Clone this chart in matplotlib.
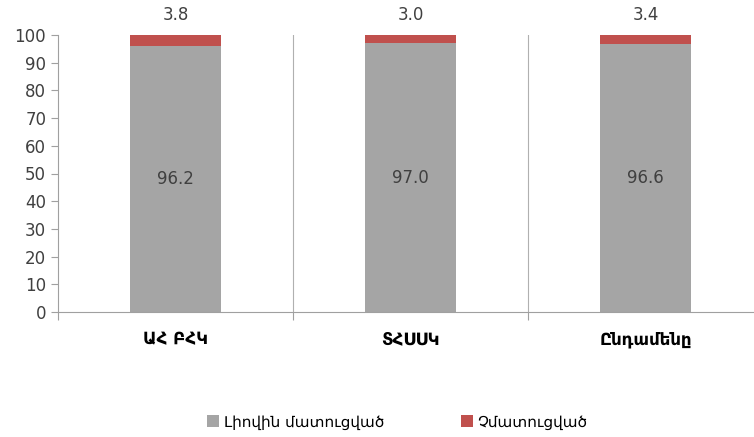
import matplotlib.pyplot as plt
import numpy as np

categories = ["ԱՀ ԲՀԿ", "ՏՀՍՍԿ", "Ընդամենը"]
fully_paid = [96.2, 97.0, 96.6]
unpaid = [3.8, 3.0, 3.4]
series_names = ["Լիովին մատուցված", "Չմատուցված"]
yticks = list(range(0, 101, 10))

plt.rcParams['font.family'] = ['DejaVu Sans']

fig = plt.figure(figsize=(7.54, 4.37), dpi=100)
ax = fig.add_axes([58 / 754, 125 / 437, 705 / 754, 277 / 437])

x = np.arange(len(categories))
gray = "#a5a5a5"
red = "#c0504d"
b1 = ax.bar(x, fully_paid, width=0.39, color=gray, label=series_names[0])
b2 = ax.bar(x, unpaid, width=0.39, bottom=fully_paid, color=red, label=series_names[1])

for i in range(len(categories)):
    ax.text(x[i], fully_paid[i] / 2, f"{fully_paid[i]:.1f}", ha="center", va="center",
            fontsize=12, color="#404040")
    ax.annotate(f"{unpaid[i]:.1f}", (x[i], fully_paid[i] + unpaid[i]), xytext=(0, 8),
                textcoords="offset points", ha="center", va="bottom",
                fontsize=12, color="#404040")

ax.set_xlim(-0.5, len(categories) - 0.5)
ax.set_ylim(0, 100)
ax.set_yticks(yticks)
ax.tick_params(axis="y", labelsize=12, colors="#404040", length=5, color="#a0a0a0")

# category separators
ax.set_xticks(np.arange(len(categories) + 1) - 0.5)
ax.set_xticklabels([])
ax.tick_params(axis="x", length=6, color="#a0a0a0")
ax.set_xticks(x, minor=True)
ax.set_xticklabels(categories, minor=True, fontsize=12, fontweight="bold", color="black")
ax.tick_params(axis="x", which="minor", length=0, pad=13)
for xs in (0.5, 1.5):
    ax.axvline(xs, color="#b0b0b0", lw=0.8)

for s in ["top", "right"]:
    ax.spines[s].set_visible(False)
for s in ["left", "bottom"]:
    ax.spines[s].set_color("#a0a0a0")

fig.legend(handles=[b1, b2], loc="center", bbox_to_anchor=(0.527, 0.034), ncol=2,
           frameon=False, fontsize=11, handlelength=0.8, handleheight=0.8,
           handletextpad=0.3, columnspacing=5)

fig.savefig("out.png", dpi=100)
